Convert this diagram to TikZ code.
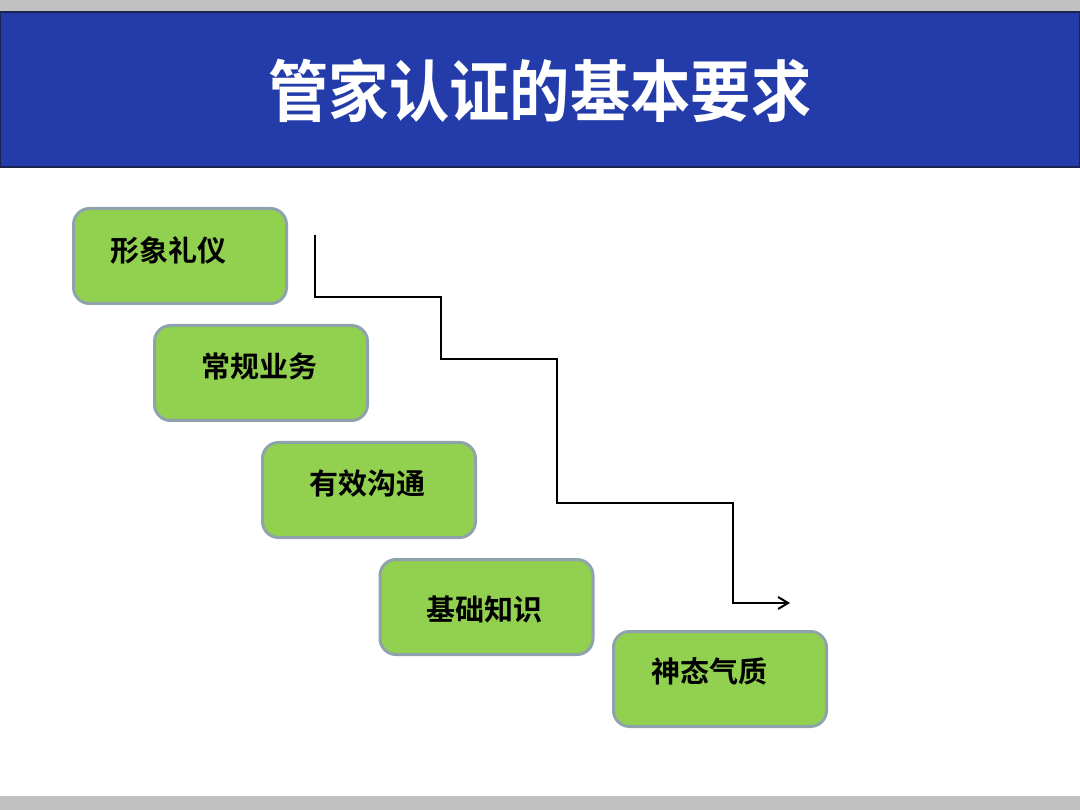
\documentclass[tikz,border=0pt]{standalone}
\usepackage{fontspec}
\usetikzlibrary{arrows.meta}
\newfontfamily\cjk{Noto Sans CJK SC}[BoldFont=* Bold]
\definecolor{headblue}{HTML}{233CAA}
\definecolor{headline}{HTML}{1A2450}
\definecolor{bargray}{HTML}{C0C0C0}
\definecolor{boxgreen}{HTML}{92D050}
\definecolor{boxline}{HTML}{8FA3AD}
\tikzset{
	item/.style={draw=boxline, line width=3pt, fill=boxgreen, rounded corners=16pt,
		minimum width=213pt, minimum height=95pt, inner sep=0pt},
	itemtext/.style={font=\cjk\bfseries\fontsize{29}{29}\selectfont, inner sep=0pt},
	flow/.style={line width=2.5pt, -{Straight Barb[length=10pt, width=12pt, line width=2pt]}}
}
\begin{document}
\begin{tikzpicture}[x=1pt, y=-1pt]
	\useasboundingbox (0,0) rectangle (1080,810);
	% bars and header
	\fill[bargray] (0,0) rectangle (1080,12);
	\fill[bargray] (0,796) rectangle (1080,810);
	\draw[fill=headblue, draw=headline, line width=1.5pt] (0,12) rectangle (1080,167);
	\node[font=\cjk\bfseries\fontsize{67}{67}\selectfont, text=white, inner sep=0pt] (title) at (540,91) {\scalebox{0.9}[1]{管家认证的基本要求}};

	% the five boxes
	\node[item] (image) at (180,256) {};
	\node[item] (routine) at (261,373) {};
	\node[item] (talk) at (369,490) {};
	\node[item] (basics) at (486.5,607) {};
	\node[item] (manner) at (720,679) {};
	\node[itemtext] (imagetext) at (168.5,250) {形象礼仪};
	\node[itemtext] (routinetext) at (259,366) {常规业务};
	\node[itemtext] (talktext) at (367.5,483.5) {有效沟通};
	\node[itemtext] (basicstext) at (484.5,609) {基础知识};
	\node[itemtext] (mannertext) at (709,671.5) {神态气质};

	% stair arrow
	\coordinate (start) at (315,235);
	\coordinate (c1) at (441,297);
	\coordinate (c2) at (557,359);
	\coordinate (c3) at (733,503);
	\coordinate (finish) at (790,603);
	\draw[flow] (start) |- (c1) |- (c2) |- (c3) |- (finish);
\end{tikzpicture}
\end{document}
